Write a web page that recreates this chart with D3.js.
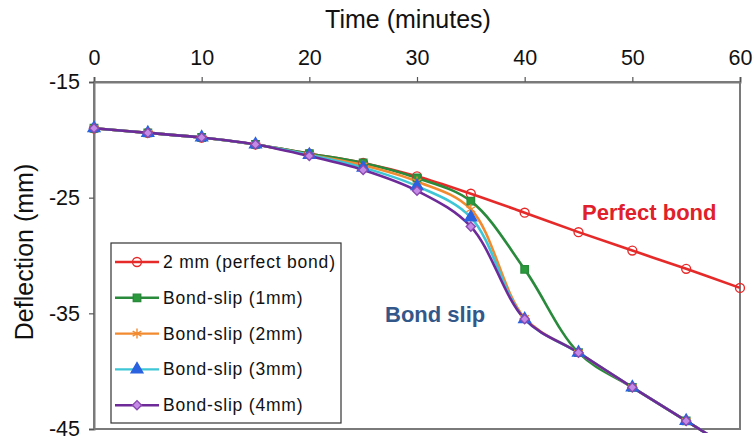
<!DOCTYPE html>
<html><head><meta charset="utf-8">
<script src="https://cdn.jsdelivr.net/npm/d3@7"></script>
<style>body{margin:0;background:#fff}svg{display:block}text{font-family:"Liberation Sans",Arial,sans-serif}</style>
</head><body><svg id="c" width="754" height="442"></svg>
<script>
const time = [0,5,10,15,20,25,30,35,40,45,50,55,60];
const perfectBond = [-19.0,-19.4,-19.8,-20.4,-21.2,-22.0,-23.15,-24.66,-26.3,-27.98,-29.57,-31.15,-32.8];
const bondSlip1 = [-19.0,-19.4,-19.8,-20.4,-21.2,-22.0,-23.3,-25.3,-31.2,-38.4,-41.4,-44.3,-47.2];
const bondSlip2 = [-19.0,-19.4,-19.8,-20.4,-21.3,-22.2,-23.6,-26.0,-35.4,-38.4,-41.4,-44.3,-47.2];
const bondSlip3 = [-19.0,-19.4,-19.8,-20.4,-21.3,-22.4,-24.0,-26.7,-35.5,-38.4,-41.4,-44.3,-47.2];
const bondSlip4 = [-19.0,-19.4,-19.8,-20.4,-21.4,-22.6,-24.4,-27.5,-35.5,-38.4,-41.4,-44.3,-47.2];
const seriesNames = ["2 mm (perfect bond)","Bond-slip (1mm)","Bond-slip (2mm)","Bond-slip (3mm)","Bond-slip (4mm)"];
const xTicks = [0,10,20,30,40,50,60];
const yTicks = [-15,-25,-35,-45];

const series = [
  {name:seriesNames[0], vals:perfectBond, color:"#e62a2a", marker:"circle", mfill:"none", mstroke:"#e62a2a"},
  {name:seriesNames[1], vals:bondSlip1, color:"#2a8a3c", marker:"square", mfill:"#2a9a3c", mstroke:"#2a8a3c"},
  {name:seriesNames[2], vals:bondSlip2, color:"#f28a30", marker:"star", mfill:"none", mstroke:"#f28a30"},
  {name:seriesNames[3], vals:bondSlip3, color:"#3ec6d6", marker:"triangle", mfill:"#2a62e0", mstroke:"#2a62e0"},
  {name:seriesNames[4], vals:bondSlip4, color:"#6e2a98", marker:"diamond", mfill:"#c58ae6", mstroke:"#8a4ab0"}
];

const svg = d3.select("#c");
const L=94, R=740, T=82, B=429;
const x = d3.scaleLinear().domain([0,60]).range([L,R]);
const y = d3.scaleLinear().domain([-15,-45]).range([T,B]);

svg.append("defs").append("clipPath").attr("id","clip")
  .append("rect").attr("x",L-8).attr("y",T-8).attr("width",R-L+16).attr("height",B-T+12);

svg.append("rect").attr("x",L).attr("y",T).attr("width",R-L).attr("height",B-T)
  .attr("fill","none").attr("stroke","#7a7a7a").attr("stroke-width",2);

const xa = svg.append("g").attr("transform",`translate(0,${T})`)
  .call(d3.axisTop(x).tickValues(xTicks).tickSize(5).tickPadding(12).tickFormat(d=>String(d)));
const ya = svg.append("g").attr("transform",`translate(${L},0)`)
  .call(d3.axisLeft(y).tickValues(yTicks).tickSize(5).tickPadding(9).tickFormat(d=>String(d)));
[xa,ya].forEach(a=>{
  a.select(".domain").attr("stroke","#7a7a7a").attr("stroke-width",2);
  a.selectAll(".tick line").attr("stroke","#555").attr("stroke-width",1.2);
  a.selectAll(".tick text").attr("font-size",21.5).attr("fill","#111")
   .attr("font-family","'Liberation Sans',Arial,sans-serif");
});

svg.append("text").attr("x",408).attr("y",28).attr("text-anchor","middle")
  .attr("font-size",25).attr("fill","#111").text("Time (minutes)");
svg.append("text").attr("transform","translate(33,252) rotate(-90)").attr("text-anchor","middle")
  .attr("font-size",25).attr("fill","#111").text("Deflection (mm)");

const diamondPath = d3.symbol().type(d3.symbolSquare).size(42);
const sym = {
  circle: d3.symbol().type(d3.symbolCircle).size(62),
  square: d3.symbol().type(d3.symbolSquare).size(55),
  star: d3.symbol().type(d3.symbolAsterisk).size(70),
  triangle: d3.symbol().type(d3.symbolTriangle).size(60),
  diamond: diamondPath
};
const rot = m => m==="diamond" ? " rotate(45)" : "";

const line = d3.line().x((d,i)=>x(time[i])).y(d=>y(d)).curve(d3.curveCatmullRom.alpha(0.5));
const plot = svg.append("g").attr("clip-path","url(#clip)");
series.forEach(s=>{
  plot.append("path").attr("d",line(s.vals)).attr("fill","none")
    .attr("stroke",s.color).attr("stroke-width",2.6);
});
series.forEach(s=>{
  plot.selectAll(null).data(s.vals.map((v,i)=>[time[i],v])).enter()
    .filter(d=>d[1]>=-45.5)
    .append("path").attr("d",sym[s.marker])
    .attr("transform",d=>`translate(${x(d[0])},${y(d[1])})${rot(s.marker)}`)
    .attr("fill",s.mfill).attr("stroke",s.mstroke).attr("stroke-width",1.4);
});

svg.append("text").attr("x",582).attr("y",220).attr("font-size",22).attr("font-weight","bold")
  .attr("fill","#e0202a").text("Perfect bond");
svg.append("text").attr("x",385).attr("y",322).attr("font-size",22).attr("font-weight","bold")
  .attr("fill","#34578a").text("Bond slip");

const lg = svg.append("g");
lg.append("rect").attr("x",111).attr("y",243).attr("width",230).attr("height",180)
  .attr("fill","#fff").attr("stroke","#333").attr("stroke-width",1.2);
series.forEach((s,i)=>{
  const yy = 262 + i*35.8;
  lg.append("line").attr("x1",115).attr("x2",159).attr("y1",yy).attr("y2",yy)
    .attr("stroke",s.color).attr("stroke-width",2.4);
  lg.append("path").attr("d",sym[s.marker]).attr("transform",`translate(137,${yy})${rot(s.marker)}`)
    .attr("fill",s.mfill).attr("stroke",s.mstroke).attr("stroke-width",1.4);
  lg.append("text").attr("x",163).attr("y",yy+6).attr("font-size",17.5)
    .attr("letter-spacing",0.8).attr("fill","#111").text(s.name);
});
</script></body></html>
